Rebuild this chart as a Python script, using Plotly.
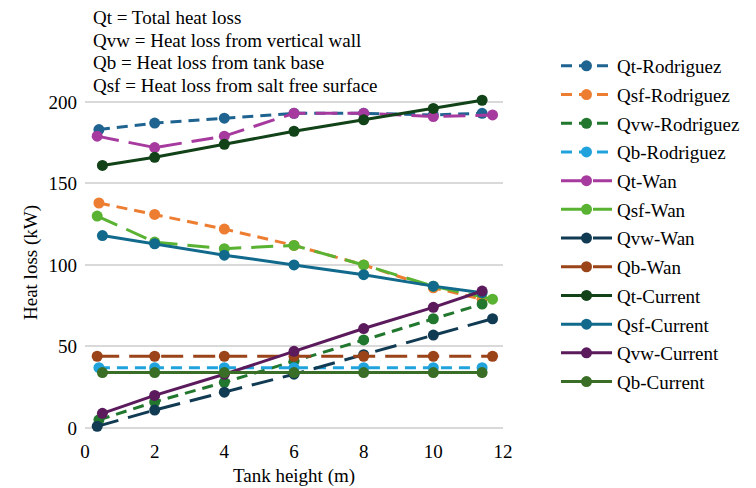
import plotly.graph_objects as go

x_rod = [0.4, 2, 4, 6, 8, 10, 11.4]
x_wan = [0.35, 2, 4, 6, 8, 10, 11.7]
x_cur = [0.5, 2, 4, 6, 8, 10, 11.4]

qt_rod = [183, 187, 190, 193, 193, 192, 193]
qsf_rod = [138, 131, 122, 112, 100, 86, 79]
qvw_rod = [5, 16, 28, 41, 54, 67, 76]
qb_rod = [37, 37, 37, 37, 37, 37, 37]

qt_wan = [179, 172, 179, 193, 193, 191, 192]
qsf_wan = [130, 114, 110, 112, 100, 87, 79]
qvw_wan = [1, 11, 22, 33, 45, 57, 67]
qb_wan = [44, 44, 44, 44, 44, 44, 44]

qt_cur = [161, 166, 174, 182, 189, 196, 201]
qsf_cur = [118, 113, 106, 100, 94, 87, 83]
qvw_cur = [9, 20, 33, 47, 61, 74, 84]
qb_cur = [34, 34, 34, 34, 34, 34, 34]

notes = ["Qt = Total heat loss", "Qvw = Heat loss from vertical wall",
         "Qb = Heat loss from tank base", "Qsf = Heat loss from salt free surface"]

ROD_DASH = "11px,7px"
WAN_DASH = "22px,10px"

series = [
    ("Qt-Rodriguez", x_rod, qt_rod, "#1F6391", ROD_DASH),
    ("Qsf-Rodriguez", x_rod, qsf_rod, "#ED7D31", ROD_DASH),
    ("Qvw-Rodriguez", x_rod, qvw_rod, "#22772E", ROD_DASH),
    ("Qb-Rodriguez", x_rod, qb_rod, "#20A3DD", ROD_DASH),
    ("Qt-Wan", x_wan, qt_wan, "#A63A9E", WAN_DASH),
    ("Qsf-Wan", x_wan, qsf_wan, "#5AB232", WAN_DASH),
    ("Qvw-Wan", x_wan, qvw_wan, "#113B53", WAN_DASH),
    ("Qb-Wan", x_wan, qb_wan, "#9C4419", WAN_DASH),
    ("Qt-Current", x_cur, qt_cur, "#114218", "solid"),
    ("Qsf-Current", x_cur, qsf_cur, "#116A8C", "solid"),
    ("Qvw-Current", x_cur, qvw_cur, "#5B1A5C", "solid"),
    ("Qb-Current", x_cur, qb_cur, "#3A6E26", "solid"),
]

FONT = "Liberation Serif, Times New Roman, serif"

# plot area in figure pixels (page has an 8px body margin)
PL, PR, PT, PB = 77, 495, 89, 420
PW, PH = PR - PL, PB - PT

fig = go.Figure()
for name, xs, ys, color, dash in series:
    fig.add_trace(go.Scatter(
        x=xs, y=ys, name=name, mode="lines+markers",
        line=dict(color=color, width=3, dash=dash),
        marker=dict(color=color, size=11),
        legendgroup=name, cliponaxis=False,
    ))

for i, t in enumerate(notes):
    fig.add_annotation(
        text=t, xref="paper", yref="paper",
        x=(83 - PL) / PW, y=(PB - (9 + 23 * i)) / PH,
        xanchor="left", yanchor="middle", showarrow=False,
        font=dict(family=FONT, size=19, color="#000000"),
    )

fig.update_layout(
    width=756, height=488,
    margin=dict(l=PL, r=756 - PR, t=PT, b=488 - PB, autoexpand=False),
    paper_bgcolor="white", plot_bgcolor="white",
    font=dict(family=FONT, size=19, color="#000000"),
    showlegend=True,
    legend=dict(x=(548 - PL) / PW, xanchor="left", y=(PB - 39) / PH, yanchor="top",
                tracegroupgap=1, itemwidth=51, font=dict(family=FONT, size=19),
                bgcolor="rgba(0,0,0,0)", maxheight=470),
    xaxis=dict(range=[0, 12], tickvals=[0, 2, 4, 6, 8, 10, 12],
               showgrid=False, zeroline=False, showline=False, automargin=False,
               ticks="", tickfont=dict(size=19), ticklabelstandoff=10,
               title=dict(text="Tank height (m)", font=dict(size=19), standoff=7)),
    yaxis=dict(range=[0, 203], tickvals=[0, 50, 100, 150, 200],
               showgrid=True, gridcolor="#D9D9D9", gridwidth=1.5, automargin=False,
               zeroline=True, zerolinecolor="#D9D9D9", zerolinewidth=1.5,
               showline=False, ticks="", tickfont=dict(size=19), ticklabelstandoff=7,
               title=dict(text="Heat loss (kW)", font=dict(size=19), standoff=5)),
)

fig.write_html("out.html")
